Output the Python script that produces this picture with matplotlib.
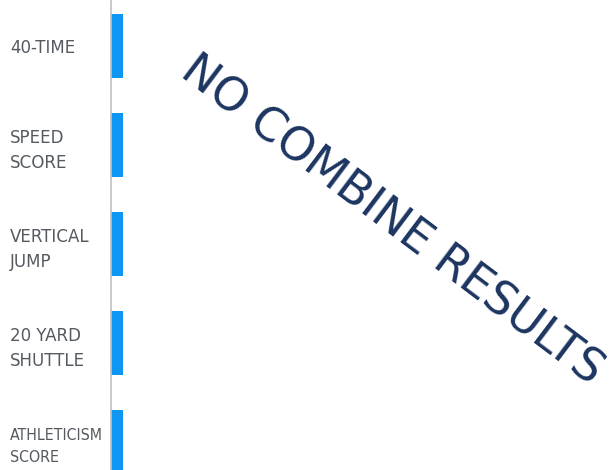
import matplotlib
matplotlib.use("Agg")
import matplotlib.pyplot as plt

# categories and (placeholder) values
categories = ["40-TIME", "SPEED\nSCORE", "VERTICAL\nJUMP", "20 YARD\nSHUTTLE", "ATHLETICISM\nSCORE"]
values = [2.4, 2.4, 2.4, 2.4, 2.4]
message = "NO COMBINE RESULTS"

fig = plt.figure(figsize=(6.12, 4.70), dpi=100)
# axes runs a bit past the bottom edge, like the reference
ax = fig.add_axes([110.5 / 612, -21.5 / 470, (612 - 110.5) / 612, 495 / 470])

pos = list(range(len(categories)))
ax.barh(pos, values, height=0.65, color="#0d96f2", left=0)
ax.set_ylim(len(categories) - 0.5, -0.5)
ax.set_xlim(0, 100)

ax.set_yticks(pos)
ax.set_yticklabels(categories)
ax.tick_params(axis="y", length=0, pad=72.4)
ax.tick_params(axis="x", length=0, labelbottom=False)
for i, lab in enumerate(ax.get_yticklabels()):
    lab.set_horizontalalignment("left")
    lab.set_family("DejaVu Sans")
    lab.set_stretch("condensed")
    lab.set_color("#555a60")
    lab.set_linespacing(1.5)
    lab.set_fontsize(11.4 if i == len(categories) - 1 else 13.3)

for s in ["top", "right", "bottom"]:
    ax.spines[s].set_visible(False)
ax.spines["left"].set_color("#c0c0c0")
ax.spines["left"].set_linewidth(1.2)

ax.text(0.64, 0.53, message, transform=fig.transFigure, rotation=-37,
        ha="center", va="center", fontsize=33, color="#1c3560",
        family="DejaVu Sans", rotation_mode="anchor")

fig.savefig("out.png", dpi=100)
